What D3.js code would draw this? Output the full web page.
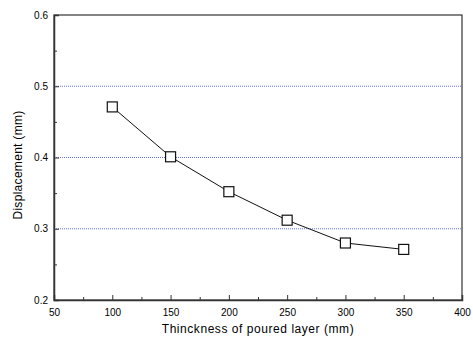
<!DOCTYPE html>
<html><head><meta charset="utf-8">
<script src="https://cdn.jsdelivr.net/npm/d3@7"></script>
<style>body{margin:0;background:#fff}svg{display:block}text{font-family:"Liberation Sans",Arial,sans-serif;fill:#000}</style>
</head><body><svg id="c" width="473" height="341"></svg>
<script>
const thickness = [100, 150, 200, 250, 300, 350];
const displacement = [0.471, 0.401, 0.352, 0.312, 0.280, 0.271];
const xTicks = [50, 100, 150, 200, 250, 300, 350, 400];
const yTicks = [0.2, 0.3, 0.4, 0.5, 0.6];
const gridValues = [0.3, 0.4, 0.5];

const svg = d3.select("#c");
const L = 54, R = 462, T = 15, B = 300;
const x = d3.scaleLinear().domain([50, 400]).range([L, R]);
const y = d3.scaleLinear().domain([0.2, 0.6]).range([B, T]);

// grid
svg.selectAll(".grid").data(gridValues).enter().append("line")
  .attr("x1", L).attr("x2", R).attr("y1", d => y(d)).attr("y2", d => y(d))
  .attr("stroke", "#5668c4").attr("stroke-width", 0.9).attr("stroke-dasharray", "1,1");

// frame
svg.append("rect").attr("x", L).attr("y", T).attr("width", R - L).attr("height", B - T)
  .attr("fill", "none").attr("stroke", "#333").attr("stroke-width", 1.2);

// axes with inward ticks
const minorX = d3.range(75, 400, 50);
const minorY = [0.25, 0.35, 0.45, 0.55];
const gx = svg.append("g").attr("transform", `translate(0,${B})`)
  .call(d3.axisBottom(x).tickValues(xTicks).tickSize(-5).tickPadding(9).tickFormat(d3.format("d")));
gx.select(".domain").attr("stroke", "#333").attr("stroke-width", 1.5);
gx.selectAll(".tick line").attr("stroke", "#333");
gx.selectAll("text").attr("font-size", 10).attr("font-family", "Liberation Sans, Arial, sans-serif");
const gxm = svg.append("g").attr("transform", `translate(0,${B})`)
  .call(d3.axisBottom(x).tickValues(minorX).tickSize(-3).tickFormat(""));
gxm.select(".domain").remove();
gxm.selectAll(".tick line").attr("stroke", "#333");

const gy = svg.append("g").attr("transform", `translate(${L},0)`)
  .call(d3.axisLeft(y).tickValues(yTicks).tickSize(-5).tickPadding(6).tickFormat(d3.format(".1f")));
gy.select(".domain").attr("stroke", "#333").attr("stroke-width", 1.5);
gy.selectAll(".tick line").attr("stroke", "#333");
gy.selectAll("text").attr("font-size", 10).attr("font-family", "Liberation Sans, Arial, sans-serif");
const gym = svg.append("g").attr("transform", `translate(${L},0)`)
  .call(d3.axisLeft(y).tickValues(minorY).tickSize(-3).tickFormat(""));
gym.select(".domain").remove();
gym.selectAll(".tick line").attr("stroke", "#333");

// line
const pts = thickness.map((t, i) => [t, displacement[i]]);
svg.append("path").datum(pts)
  .attr("d", d3.line().x(d => x(d[0])).y(d => y(d[1])))
  .attr("fill", "none").attr("stroke", "#111").attr("stroke-width", 1);

// markers
const s = 10;
svg.selectAll(".m").data(pts).enter().append("rect")
  .attr("x", d => x(d[0]) - s / 2).attr("y", d => y(d[1]) - s / 2)
  .attr("width", s).attr("height", s)
  .attr("fill", "#fff").attr("stroke", "#111").attr("stroke-width", 1.2);

// titles
svg.append("text").attr("x", (L + R) / 2).attr("y", 333).attr("text-anchor", "middle")
  .attr("font-size", 12).attr("letter-spacing", 0.55).text("Thinckness of poured layer (mm)");
svg.append("text").attr("transform", `translate(22,165) rotate(-90)`)
  .attr("text-anchor", "middle").attr("font-size", 12).attr("letter-spacing", 0.3).text("Displacement (mm)");
</script></body></html>
